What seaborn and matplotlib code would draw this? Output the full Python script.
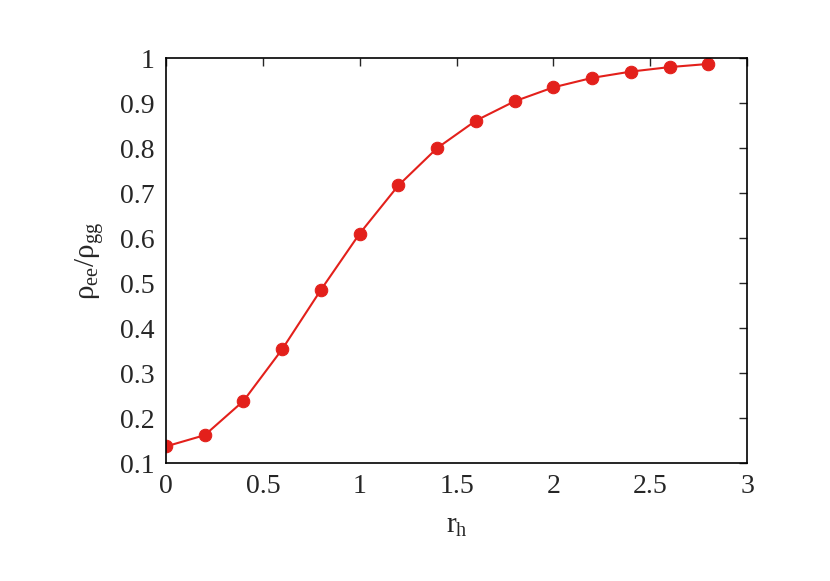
import matplotlib
matplotlib.use("Agg")
import matplotlib.pyplot as plt
import seaborn as sns
import pandas as pd

rh = [0.0, 0.2, 0.4, 0.6, 0.8, 1.0, 1.2, 1.4, 1.6, 1.8, 2.0, 2.2, 2.4, 2.6, 2.8]
ratio = [0.137, 0.162, 0.238, 0.353, 0.485, 0.610, 0.717, 0.800, 0.861, 0.904, 0.935, 0.956, 0.970, 0.980, 0.987]
xticks = [0, 0.5, 1, 1.5, 2, 2.5, 3]
xticklabels = ["0", "0.5", "1", "1.5", "2", "2.5", "3"]
yticks = [0.1, 0.2, 0.3, 0.4, 0.5, 0.6, 0.7, 0.8, 0.9, 1.0]
yticklabels = ["0.1", "0.2", "0.3", "0.4", "0.5", "0.6", "0.7", "0.8", "0.9", "1"]

sns.set_style("white")
plt.rcParams['font.family'] = ['Liberation Serif', 'DejaVu Serif']
plt.rcParams['mathtext.fontset'] = 'custom'
plt.rcParams['mathtext.rm'] = 'Liberation Serif'
plt.rcParams['mathtext.it'] = 'Liberation Serif'

df = pd.DataFrame({"rh": rh, "ratio": ratio})
fig = plt.figure(figsize=(8.3, 5.81), dpi=100)
ax = fig.add_axes([0.2, 0.203, 0.7, 0.697])
sns.lineplot(data=df, x="rh", y="ratio", ax=ax, color="#e3201b", lw=1.5,
             marker="o", markersize=9, markeredgecolor="#e3201b")
ax.set_xlim(0, 3)
ax.set_ylim(0.1, 1.0)
ax.set_xticks(xticks)
ax.set_xticklabels(xticklabels)
ax.set_yticks(yticks)
ax.set_yticklabels(yticklabels)
ax.tick_params(direction="in", length=6, labelsize=20, top=True, right=True, width=1, pad=8)
for s in ax.spines.values():
    s.set_color("black"); s.set_linewidth(1.2)
ax.set_xlabel(r"$\mathrm{r_h}$", fontsize=21, labelpad=10)
ax.set_ylabel(r"$\mathrm{\rho_{ee}/\rho_{gg}}$", fontsize=21, labelpad=10)
fig.savefig("out.png", dpi=100)
